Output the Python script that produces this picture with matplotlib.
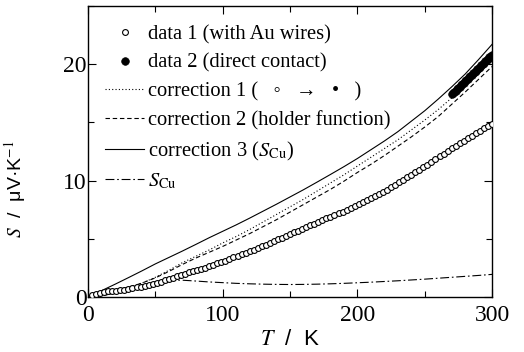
import matplotlib as mpl
mpl.use('Agg')
import matplotlib.pyplot as plt
from matplotlib.ticker import MultipleLocator

plt.rcParams['font.family'] = ['Liberation Serif', 'DejaVu Serif', 'DejaVu Sans']
plt.rcParams['mathtext.fontset'] = 'stix'

# data 1 (with Au wires), open circles
T1 = [3, 6, 9, 12, 15, 18, 21, 24, 27, 30, 33, 36, 39, 42, 45, 48, 51, 54, 57, 60,
      63, 66, 69, 72, 75, 78, 81, 84, 87, 90, 93, 96, 99, 102, 105, 108, 111, 114, 117, 120,
      123, 126, 129, 132, 135, 138, 141, 144, 147, 150, 153, 156, 159, 162, 165, 168, 171, 174, 177, 180,
      183, 186, 189, 192, 195, 198, 201, 204, 207, 210, 213, 216, 219, 222, 225, 228, 231, 234, 237, 240,
      243, 246, 249, 252, 255, 258, 261, 264, 267, 270, 273, 276, 279, 282, 285, 288, 291, 294, 297, 300]
S1 = [0.15, 0.28, 0.38, 0.45, 0.50, 0.53, 0.56, 0.60, 0.65, 0.70, 0.76, 0.83, 0.90, 0.97, 1.05, 1.14, 1.23, 1.33, 1.44, 1.55,
      1.67, 1.79, 1.91, 2.02, 2.12, 2.23, 2.33, 2.44, 2.54, 2.65, 2.77, 2.89, 3.01, 3.14, 3.27, 3.41, 3.54, 3.68, 3.81, 3.95,
      4.08, 4.22, 4.35, 4.50, 4.65, 4.80, 4.95, 5.10, 5.25, 5.40, 5.55, 5.70, 5.85, 6.00, 6.15, 6.30, 6.45, 6.60, 6.75, 6.90,
      7.05, 7.20, 7.35, 7.50, 7.65, 7.80, 7.96, 8.14, 8.32, 8.50, 8.68, 8.86, 9.04, 9.23, 9.44, 9.65, 9.86, 10.07, 10.28, 10.50,
      10.71, 10.92, 11.13, 11.36, 11.60, 11.84, 12.08, 12.32, 12.56, 12.80, 13.01, 13.22, 13.43, 13.64, 13.85, 14.06, 14.27, 14.48, 14.69, 14.90]

# data 2 (direct contact), filled circles
T2 = [270, 271, 272, 273, 274, 275, 276, 277, 278, 279, 280, 281, 282, 283, 284, 285,
      286, 287, 288, 289, 290, 291, 292, 293, 294, 295, 296, 297, 298, 299, 300]
S2 = [17.40, 17.51, 17.62, 17.73, 17.84, 17.96, 18.07, 18.18, 18.29, 18.41, 18.52, 18.63, 18.75, 18.86, 18.98, 19.09,
      19.21, 19.32, 19.44, 19.55, 19.67, 19.78, 19.90, 20.01, 20.13, 20.24, 20.36, 20.47, 20.59, 20.70, 20.82]

# correction curves and S_Cu
Tc = [0, 10, 20, 30, 40, 50, 60, 70, 80, 90, 100, 110, 120, 130, 140, 150,
      160, 170, 180, 190, 200, 210, 220, 230, 240, 250, 260, 270, 280, 290, 300]
corr1 = [0, 0.45, 0.6, 0.85, 1.2, 1.7, 2.3, 2.95, 3.5, 4.05, 4.65, 5.2, 5.8, 6.45, 7.1, 7.75,
         8.4, 9.1, 9.8, 10.5, 11.25, 12.0, 12.75, 13.5, 14.35, 15.2, 16.1, 17.1, 18.2, 19.4, 20.7]
corr2 = [0, 0.45, 0.6, 0.85, 1.2, 1.65, 2.2, 2.8, 3.35, 3.85, 4.35, 4.9, 5.45, 6.05, 6.65, 7.3,
         7.95, 8.6, 9.25, 9.95, 10.7, 11.4, 12.15, 12.95, 13.75, 14.6, 15.5, 16.55, 17.6, 18.7, 19.8]
corr3 = [0, 0.55, 1.1, 1.67, 2.25, 2.85, 3.4, 3.95, 4.52, 5.1, 5.65, 6.2, 6.78, 7.38, 7.98, 8.6,
         9.22, 9.87, 10.53, 11.2, 11.9, 12.65, 13.4, 14.2, 15.1, 16.0, 17.0, 18.05, 19.15, 20.4, 21.7]
S_cu = [0, 0.1, 0.35, 0.7, 1.05, 1.3, 1.45, 1.45, 1.38, 1.3, 1.24, 1.18, 1.14, 1.11, 1.09, 1.08,
        1.09, 1.11, 1.14, 1.18, 1.23, 1.28, 1.34, 1.40, 1.47, 1.54, 1.62, 1.70, 1.78, 1.86, 1.95]

labels = ['data 1 (with Au wires)',
          'data 2 (direct contact)',
          'correction 1 (   \u25e6   \u2192   \u2022   )',
          'correction 2 (holder function)',
          'correction 3 ($S_{\\mathrm{Cu}}$)',
          '$S_{\\mathrm{Cu}}$']

fig = plt.figure(figsize=(5.24, 3.52), dpi=100)
ax = fig.add_axes([0.168, 0.156, 0.771, 0.827])

lw = 0.8
ax.plot(T1, S1, 'o', ms=4.2, mfc='white', mec='black', mew=0.8, label=labels[0], zorder=3)
ax.plot(T2, S2, 'o', ms=5.5, mfc='black', mec='black', mew=0.5, label=labels[1], zorder=4)
ax.plot(Tc, corr1, color='black', lw=lw, ls=(0, (1, 2)), label=labels[2])
ax.plot(Tc, corr2, color='black', lw=lw, ls=(0, (4, 2.5)), label=labels[3])
ax.plot(Tc, corr3, color='black', lw=lw, ls='-', label=labels[4])
ax.plot(Tc, S_cu, color='black', lw=lw, ls=(0, (8, 2.5, 1.5, 2.5)), label=labels[5])

ax.set_xlim(0, 300)
ax.set_ylim(0, 25)
ax.xaxis.set_major_locator(MultipleLocator(100))
ax.xaxis.set_minor_locator(MultipleLocator(50))
ax.yaxis.set_major_locator(MultipleLocator(10))
ax.yaxis.set_minor_locator(MultipleLocator(5))
ax.tick_params(which='both', direction='in', top=True, right=True, labelsize=17, width=0.8)
ax.tick_params(which='major', length=6)
ax.tick_params(which='minor', length=4)
ax.tick_params(axis='x', which='major', pad=6)
ax.tick_params(axis='y', which='major', pad=1)
for sp in ax.spines.values():
    sp.set_linewidth(1.0)

ax.set_xlabel('$T$  /  K', fontsize=16, family=['Liberation Sans', 'DejaVu Sans'])
ax.set_ylabel('$S$  /  \u03bcV\u00b7K$^{-1}$', fontsize=14, family=['Liberation Sans', 'DejaVu Sans'])
ax.xaxis.set_label_coords(0.5, -0.11)
ax.yaxis.set_label_coords(-0.148, 0.37)

ax.legend(loc='upper left', bbox_to_anchor=(0.042, 0.935), frameon=False, fontsize=14.8,
          borderpad=0, borderaxespad=0, handlelength=1.9, handletextpad=0.2,
          labelspacing=0.45, numpoints=1)

fig.savefig('out.png', dpi=100)
